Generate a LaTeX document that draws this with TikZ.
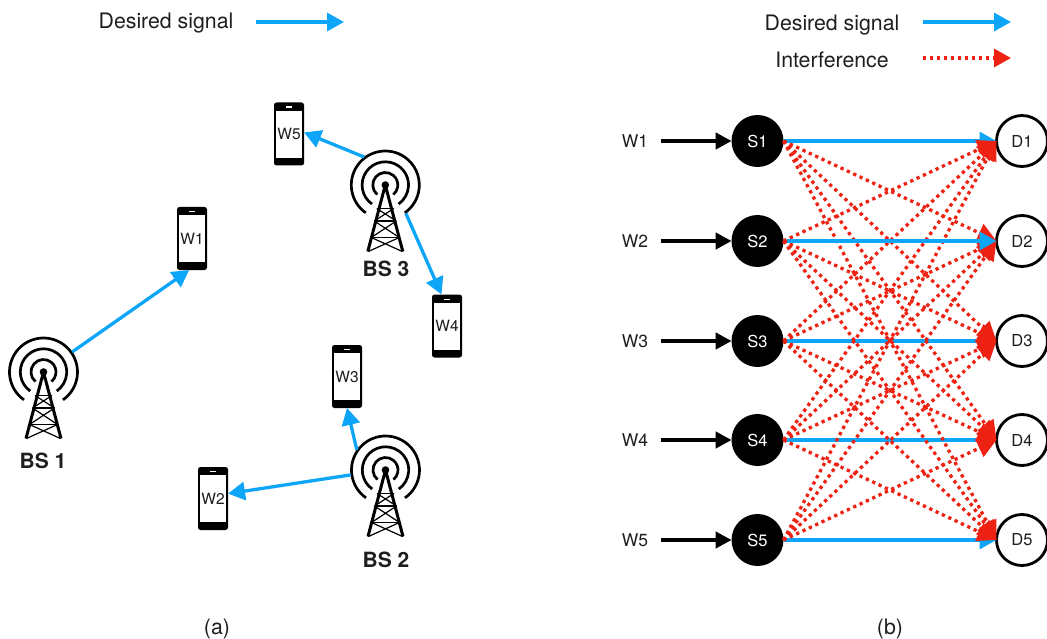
\documentclass[tikz,border=0pt]{standalone}
\usepackage{fontspec}
\setmainfont{TeX Gyre Heros}
\usepackage{xcolor}
\usetikzlibrary{arrows.meta}
\definecolor{sigblue}{HTML}{0DA5F7}
\definecolor{intred}{HTML}{EE2212}
\definecolor{ink}{HTML}{1E1E1E}
\tikzset{
	bsicon/.pic={
		\draw [line width=2.7pt] (125:34) arc [start angle=125, end angle=415, radius=34];
		\draw [line width=2.7pt] (125:23.2) arc [start angle=125, end angle=415, radius=23.2];
		\draw [line width=2.7pt] (130:12.5) arc [start angle=130, end angle=410, radius=12.5];
		\fill (0,0) circle (3.8);
		\draw [line width=3pt, line join=round] (-17.5,66.5) -- (0,0) -- (17.5,66.5);
		\draw [line width=1.2pt] (-8.5,23.5) -- (8.5,23.5) (-11,36) -- (11,36) (-14,52.5) -- (14,52.5);
		\draw [line width=1.2pt] (-8.5,23.5) -- (11,36) (8.5,23.5) -- (-11,36);
		\draw [line width=1.2pt] (-11,36) -- (14,52.5) (11,36) -- (-14,52.5);
		\draw [line width=1.2pt] (-14,52.5) -- (17,66.5) (14,52.5) -- (-17,66.5);
	},
	bscell/.style={circle, minimum size=70pt, inner sep=0pt, outer sep=0pt},
	bslabel/.style={font=\fontsize{21}{24}\selectfont\bfseries, text=ink},
	phone/.style={rectangle, rounded corners=2.5pt, fill=black, minimum width=30pt, minimum height=63pt, inner sep=0pt, outer sep=0pt, text=ink, font=\fontsize{15.5}{17}\selectfont,
		path picture={
			\fill [white, sharp corners] ([shift={(2.3,8.3)}]path picture bounding box.north west) rectangle ([shift={(-2.3,-7.7)}]path picture bounding box.south east);
			\fill [white, sharp corners] ([shift={(-3,4)}]path picture bounding box.north) rectangle ([shift={(3,5.3)}]path picture bounding box.north);
		}},
	sig/.style={draw=sigblue, line width=3.3pt, -{Triangle[length=17pt, width=18pt, fill=sigblue]}},
	intf/.style={draw=intred, line width=3.3pt, dash pattern=on 3.3pt off 3.7pt, -{Triangle[length=17pt, width=18pt, fill=intred]}},
	intfnet/.style={intf, -{Triangle[length=19pt, width=19pt, fill=intred]}},
	feed/.style={draw=black, line width=3.2pt, shorten <=13pt, -{Triangle[length=16pt, width=16.5pt]}},
	txt/.style={font=\fontsize{21.3}{24}\selectfont, text=ink},
	small/.style={font=\fontsize{17.5}{20}\selectfont, text=ink},
	src/.style={circle, fill=black, text=white, minimum size=52pt, inner sep=0pt, outer sep=0pt, font=\fontsize{16.5}{18}\selectfont},
	dst/.style={circle, draw=black, line width=2.8pt, fill=white, minimum size=51pt, inner sep=0pt, outer sep=0pt, text=ink, font=\fontsize{16.5}{18}\selectfont}
}
\begin{document}
\begin{tikzpicture}[x=1pt, y=-1pt]
\useasboundingbox (0,0) rectangle (1047,639);

\node (lega) at (166,23) [txt] {Desired signal};
\coordinate (lega1) at (256,22);
\coordinate (lega2) at (344,22);
\draw [sig] (lega1) -- (lega2);

\foreach \i/\x/\y in {1/43.5/372, 2/385.5/470, 3/385.3/185} {
	\node (bs\i) at (\x,\y) [bscell] {};
	\pic at (bs\i) {bsicon};
}
\node (bslab1) at (43,461) [bslabel] {BS 1};
\node (bslab2) at (386,560) [bslabel] {BS 2};
\node (bslab3) at (386,269) [bslabel] {BS 3};

\node (ph1) at (192,238.5) [phone] {W1};
\node (ph2) at (213,498.5) [phone] {W2};
\node (ph3) at (347,376.5) [phone] {W3};
\node (ph4) at (447,326) [phone] {W4};
\node (ph5) at (289,134) [phone] {W5};

\draw [sig] (bs1) -- (ph1.-95);
\draw [sig] (bs2.188) -- (ph2.18);
\draw [sig] (bs2.145) -- (ph3.south);
\draw [sig] (bs3.-54) -- (ph4.100);
\draw [sig] (bs3.127) -- (ph5.6);

\node (capa) at (217,629) [txt] {(a)};
\node (capb) at (890,629) [txt] {(b)};

\node (legb) at (832,25) [txt] {Desired signal};
\node (legc) at (832,60) [txt] {Interference};
\coordinate (legb1) at (923,22);
\coordinate (legb2) at (1011,22);
\coordinate (legc1) at (923,58);
\coordinate (legc2) at (1011,58);
\draw [sig] (legb1) -- (legb2);
\draw [intf] (legc1) -- (legc2);

\foreach \i/\y in {1/141, 2/241, 3/341, 4/440, 5/540} {
	\node (w\i) at (635,\y) [small, inner sep=0pt] {W\i};
	\node (s\i) at (757.5,\y) [src] {S\i};
	\node (d\i) at (1022,\y) [dst] {D\i};
	\draw [feed] (w\i) -- (s\i);
}

\foreach \i in {1,3,4,5} {
	\draw [sig] (s\i) -- (d\i);
}
\foreach \i in {1,...,5} {
	\foreach \j in {1,...,5} {
		\ifnum\i=\j\else
			\draw [intfnet] (s\i.east) -- (d\j.west);
		\fi
	}
}
\draw [sig, shorten <=3pt] (s2) -- (d2);
\end{tikzpicture}
\end{document}
